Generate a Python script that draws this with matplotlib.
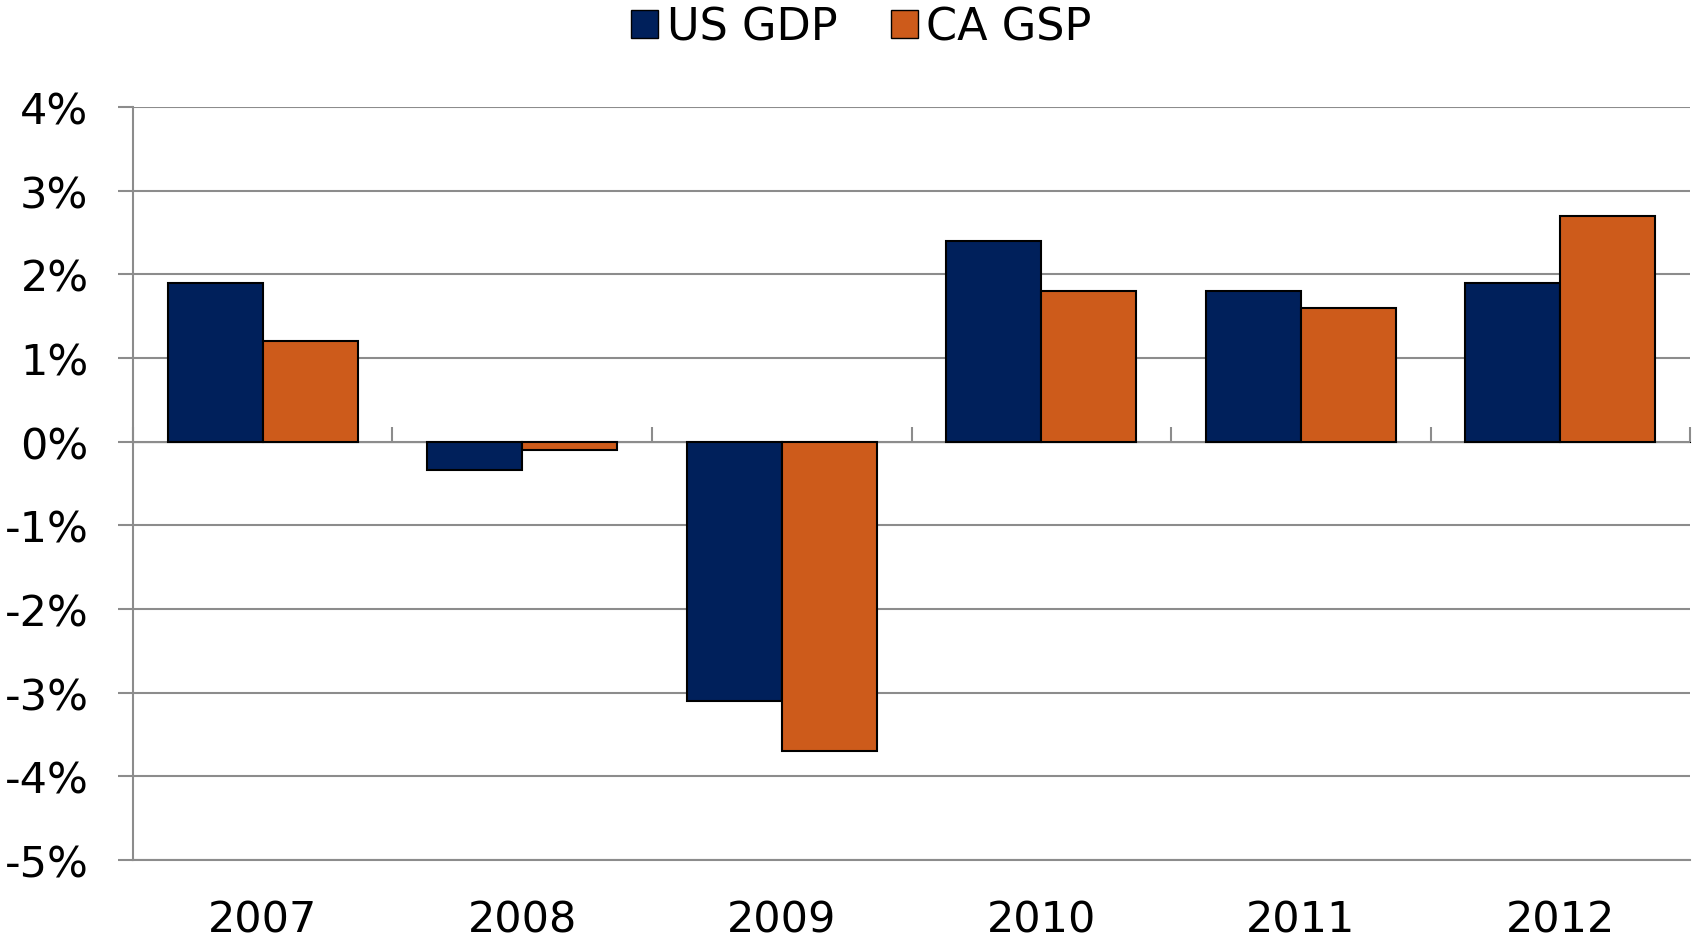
import matplotlib.pyplot as plt
import matplotlib.ticker as mticker
import numpy as np

years = ["2007", "2008", "2009", "2010", "2011", "2012"]
us_gdp = [1.9, -0.34, -3.1, 2.4, 1.8, 1.9]
ca_gsp = [1.2, -0.1, -3.7, 1.8, 1.6, 2.7]

navy = "#00205B"
orange = "#CD5B1B"
grey = "#8C8C8C"

plt.rcParams['font.family'] = ['DejaVu Sans']

fig = plt.figure(figsize=(16.96, 9.45), dpi=100)
ax = fig.add_axes([0.0784, 0.0889, 0.9181, 0.7968])

x = np.arange(len(years))
w = 0.366
ax.bar(x - w / 2, us_gdp, w, color=navy, edgecolor="black", linewidth=1.5,
       label="US GDP", zorder=3)
ax.bar(x + w / 2, ca_gsp, w, color=orange, edgecolor="black", linewidth=1.5,
       label="CA GSP", zorder=3)

ymin, ymax = -5, 4
ax.set_ylim(ymin, ymax)
ax.set_xlim(-0.5, len(years) - 0.5)

# y axis: percent labels, gridlines
ax.yaxis.set_major_locator(mticker.MultipleLocator(1))
ax.yaxis.set_major_formatter(mticker.FuncFormatter(lambda v, p: f"{v:.0f}%"))
ax.grid(axis="y", color=grey, linewidth=1.5, zorder=0)
ax.tick_params(axis="y", length=11, width=1.5, color=grey, pad=21,
               labelsize=31, labelcolor="black")

# x labels at the bottom, no tick marks
ax.set_xticks(x)
ax.set_xticklabels(years)
ax.tick_params(axis="x", length=0, pad=28, labelsize=31)

for s in ["top", "right"]:
    ax.spines[s].set_visible(False)
ax.spines["left"].set_color(grey)
ax.spines["left"].set_linewidth(1.5)
ax.spines["bottom"].set_color(grey)
ax.spines["bottom"].set_linewidth(1.5)

# category axis sits at zero, with ticks between categories
zero_loc = (0 - ymin) / (ymax - ymin)
sec = ax.secondary_xaxis(zero_loc)
sec.set_xticks(np.arange(len(years) + 1) - 0.5)
sec.set_xticklabels([])
sec.tick_params(length=11, width=1.5, color=grey, direction="out")
sec.spines["bottom"].set_color(grey)
sec.spines["bottom"].set_linewidth(1.5)

leg = fig.legend(loc="upper center", bbox_to_anchor=(0.508, 1.035), ncol=2,
                 frameon=False, fontsize=32, handlelength=0.6,
                 handleheight=0.6, handletextpad=0.2, columnspacing=1.2)
for h in leg.legend_handles:
    h.set_linewidth(1.0)

fig.savefig("out.png", dpi=100)
